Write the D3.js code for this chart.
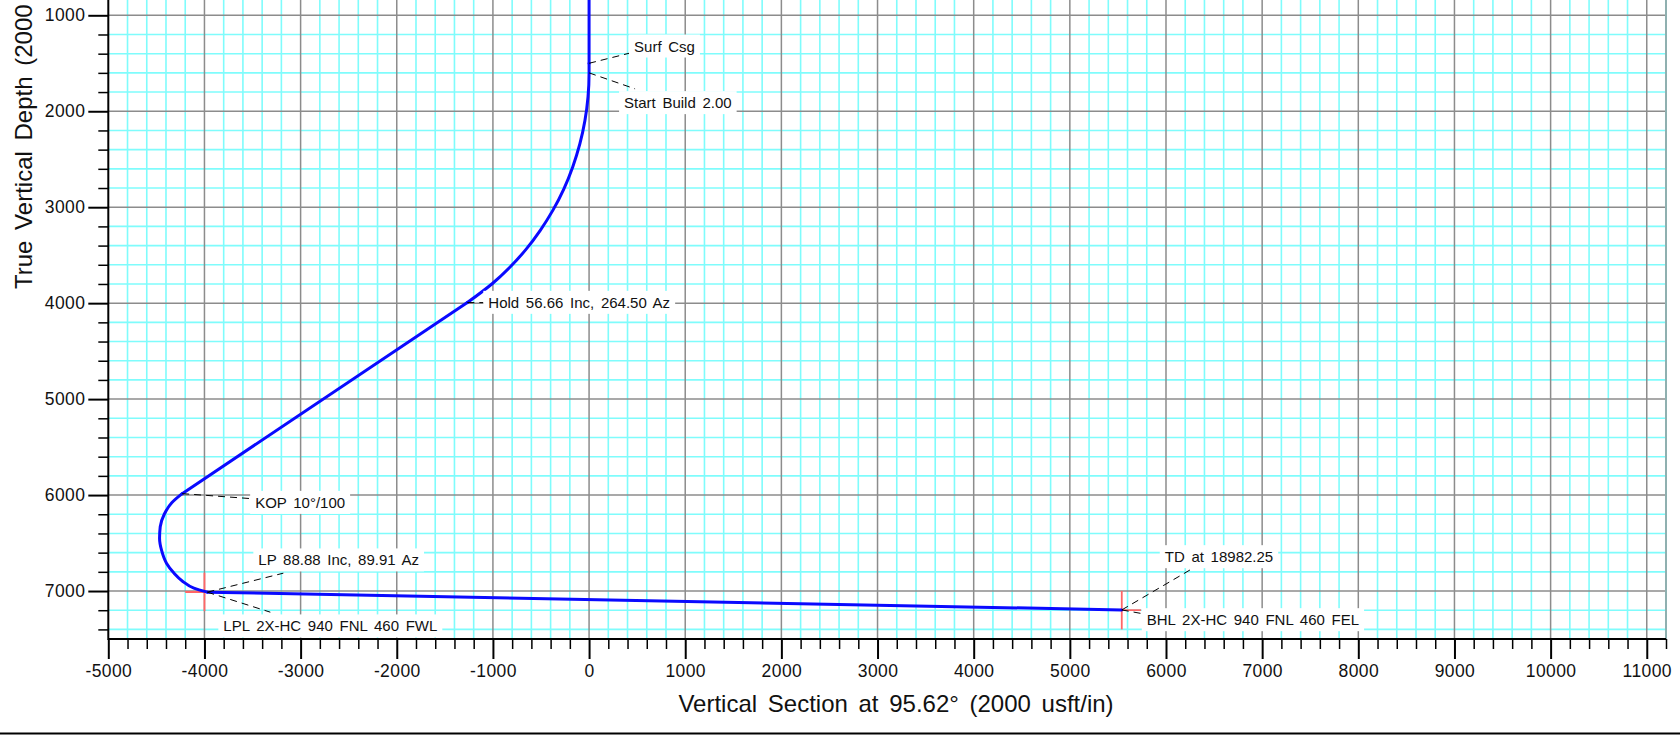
<!DOCTYPE html>
<html>
<head>
    <meta charset="utf-8">
    <title>vertical section</title>
    <script src="https://d3js.org/d3.v7.min.js"></script>
    <style>
        body { margin: 0; background: #fff; }
        text { font-family: "Liberation Sans", Arial, Helvetica, sans-serif; fill: #111; }
    </style>
</head>

<body>
    <svg width="1680" height="735"></svg>
    <script>
        // well path (vertical section, true vertical depth)
        var pathVS = [0, 0, 0, -11, -43, -96, -170, -263, -377, -509, -658, -824, -1005, -1266,
            -4232, -4340, -4418, -4460, -4467, -4445, -4395, -4320, -4225, -4110, -3970, 5540];
        var pathTVD = [0, 1500, 1600, 1850, 2097, 2341, 2580, 2811, 3033, 3243, 3442, 3626, 3795, 3994,
            5985, 6080, 6200, 6330, 6450, 6580, 6710, 6810, 6900, 6970, 7012, 7197];
        // index ranges: vertical+build, hold, turn to LP, lateral
        var sections = [[1, 13, "curve"], [13, 14, "line"], [14, 24, "curve"], [24, 25, "line"], [0, 1, "line"]];

        // target crosses (LP and BHL)
        var targetVS = [-4000, 5540];
        var targetTVD = [7010, 7200];
        var targetHalf = 200;

        // annotations
        var labelText = ["Surf Csg", "Start Build 2.00", "Hold 56.66 Inc, 264.50 Az", "KOP  10\u00b0/100",
            "LP 88.88 Inc, 89.91 Az", "LPL 2X-HC 940 FNL 460 FWL", "TD at 18982.25", "BHL 2X-HC 940 FNL 460 FEL"];
        var labelVS = [0, 0, -1266, -4232, -3970, -3970, 5540, 5540];
        var labelTVD = [1500, 1600, 3994, 5985, 7012, 7012, 7197, 7197];

        var xTickValues = [-5000, -4000, -3000, -2000, -1000, 0, 1000, 2000, 3000, 4000, 5000,
            6000, 7000, 8000, 9000, 10000, 11000];
        var yTickValues = [1000, 2000, 3000, 4000, 5000, 6000, 7000];

        // layout: pixel offsets of leader end and text start from the anchor
        var leaderOff = [[40, -10], [46, 16], [16, 0], [69, 5], [76, -19], [63, 20], [70, -41], [22, 4]];
        var textOff = [[45, -17], [35, 30], [21, 0], [73, 9], [51, -32], [16, 34], [43, -53], [25, 10]];

        var svg = d3.select("svg");
        var pLeft = 108.3, pRight = 1666, pTop = 15.3, pBottom = 639;

        var x = d3.scaleLinear().domain([-5000, 11200]).range([pLeft, pRight]);
        var y = d3.scaleLinear().domain([1000, 7500]).range([pTop, pBottom]);

        var minorX = d3.range(-4800, 11201, 200).filter(function (d) { return d % 1000 != 0; });
        var majorX = d3.range(-4000, 11001, 1000);
        var minorY = d3.range(7400, 799, -200).filter(function (d) { return d % 1000 != 0; });
        var majorY = d3.range(1000, 7001, 1000);

        var grid = svg.append("g");
        grid.selectAll(".mx").data(minorX).enter().append("line")
            .attr("x1", function (d) { return x(d); }).attr("x2", function (d) { return x(d); })
            .attr("y1", 0).attr("y2", pBottom)
            .attr("stroke", "#7ffcfc").attr("stroke-width", 1.6);
        grid.selectAll(".my").data(minorY).enter().append("line")
            .attr("x1", pLeft).attr("x2", pRight)
            .attr("y1", function (d) { return y(d); }).attr("y2", function (d) { return y(d); })
            .attr("stroke", "#7ffcfc").attr("stroke-width", 1.6);
        grid.selectAll(".Mx").data(majorX).enter().append("line")
            .attr("x1", function (d) { return x(d); }).attr("x2", function (d) { return x(d); })
            .attr("y1", 0).attr("y2", pBottom)
            .attr("stroke", "#8c8c8c").attr("stroke-width", 1.5);
        grid.selectAll(".My").data(majorY).enter().append("line")
            .attr("x1", pLeft).attr("x2", pRight)
            .attr("y1", function (d) { return y(d); }).attr("y2", function (d) { return y(d); })
            .attr("stroke", "#8c8c8c").attr("stroke-width", 1.5);
        grid.append("line").attr("x1", pRight).attr("x2", pRight).attr("y1", 0).attr("y2", pBottom)
            .attr("stroke", "#8fb0b0").attr("stroke-width", 2);

        // axes
        var fmt = function (d) { return String(d); };
        var xMinor = d3.axisBottom(x).tickValues(minorX).tickSize(10).tickFormat("");
        var xMajor = d3.axisBottom(x).tickValues(xTickValues).tickSize(20).tickPadding(6).tickFormat(fmt);
        var yMinor = d3.axisLeft(y).tickValues(minorY).tickSize(10).tickFormat("");
        var yMajor = d3.axisLeft(y).tickValues(yTickValues).tickSize(20).tickPadding(3).tickFormat(fmt);

        function styleAxis(g, w) {
            g.select(".domain").remove();
            g.selectAll(".tick line").attr("stroke", "#000").attr("stroke-width", w);
            g.selectAll(".tick text").style("font-size", "17.5px").style("letter-spacing", "0.4px")
                .attr("fill", "#111");
        }
        svg.append("g").attr("transform", "translate(0," + pBottom + ")").call(xMinor).call(styleAxis, 1.5);
        svg.append("g").attr("transform", "translate(0," + pBottom + ")").call(xMajor).call(styleAxis, 2);
        svg.append("g").attr("transform", "translate(" + pLeft + ",0)").call(yMinor).call(styleAxis, 1.5);
        svg.append("g").attr("transform", "translate(" + pLeft + ",0)").call(yMajor).call(styleAxis, 2);

        svg.append("line").attr("x1", pLeft).attr("x2", pLeft).attr("y1", 0).attr("y2", pBottom + 1)
            .attr("stroke", "#000").attr("stroke-width", 2);
        svg.append("line").attr("x1", pLeft).attr("x2", pRight).attr("y1", pBottom).attr("y2", pBottom)
            .attr("stroke", "#000").attr("stroke-width", 2);

        // target crosses (half hidden behind the well path in the original)
        var marks = svg.append("g");
        targetVS.forEach(function (v, i) {
            var t = targetTVD[i];
            marks.append("line").attr("x1", x(v)).attr("x2", x(v))
                .attr("y1", y(t - targetHalf)).attr("y2", y(t + targetHalf))
                .attr("stroke", "#ff6666").attr("stroke-width", 1.8);
            marks.append("line").attr("x1", x(v - targetHalf)).attr("x2", x(v + targetHalf))
                .attr("y1", y(t)).attr("y2", y(t))
                .attr("stroke", "#ff6666").attr("stroke-width", 1.8);
        });

        // well path: smooth through the build and turn, straight for vertical, hold and lateral
        var pts = pathVS.map(function (v, i) { return [v, pathTVD[i]]; });
        var line = d3.line().x(function (d) { return x(d[0]); }).y(function (d) { return y(d[1]); });
        var well = svg.append("g").attr("fill", "none").attr("stroke", "#0a0aff")
            .attr("stroke-width", 3).attr("stroke-linecap", "round");
        sections.forEach(function (s) {
            line.curve(s[2] == "curve" ? d3.curveMonotoneY : d3.curveLinear);
            well.append("path").attr("d", line(pts.slice(s[0], s[1] + 1)));
        });

        // annotations
        var ann = svg.append("g");
        labelText.forEach(function (s, i) {
            var ax = x(labelVS[i]), ay = y(labelTVD[i]);
            ann.append("line").attr("x1", ax).attr("y1", ay)
                .attr("x2", ax + leaderOff[i][0]).attr("y2", ay + leaderOff[i][1])
                .attr("stroke", "#000").attr("stroke-width", 1).attr("stroke-dasharray", "7,5");
        });
        labelText.forEach(function (s, i) {
            var ax = x(labelVS[i]), ay = y(labelTVD[i]);
            var g = ann.append("g");
            var t = g.append("text").attr("x", ax + textOff[i][0]).attr("y", ay + textOff[i][1])
                .attr("dy", "0.35em").style("font-size", "15px").style("word-spacing", "2.5px").text(s);
            var b = t.node().getBBox();
            g.insert("rect", "text").attr("x", b.x - 5).attr("y", b.y - 3)
                .attr("width", b.width + 10).attr("height", b.height + 6).attr("fill", "#fff");
        });

        // titles
        svg.append("text").attr("x", 896).attr("y", 712).attr("text-anchor", "middle")
            .style("font-size", "24px").style("word-spacing", "4px")
            .text("Vertical Section at 95.62\u00b0 (2000 usft/in)");
        svg.append("text").attr("transform", "translate(32,289) rotate(-90)").attr("text-anchor", "start")
            .style("font-size", "24px").style("word-spacing", "4px")
            .text("True Vertical Depth (2000 usft/in)");

        svg.append("line").attr("x1", 0).attr("x2", 1680).attr("y1", 733.5).attr("y2", 733.5)
            .attr("stroke", "#000").attr("stroke-width", 2);
    </script>
</body>
</html>
